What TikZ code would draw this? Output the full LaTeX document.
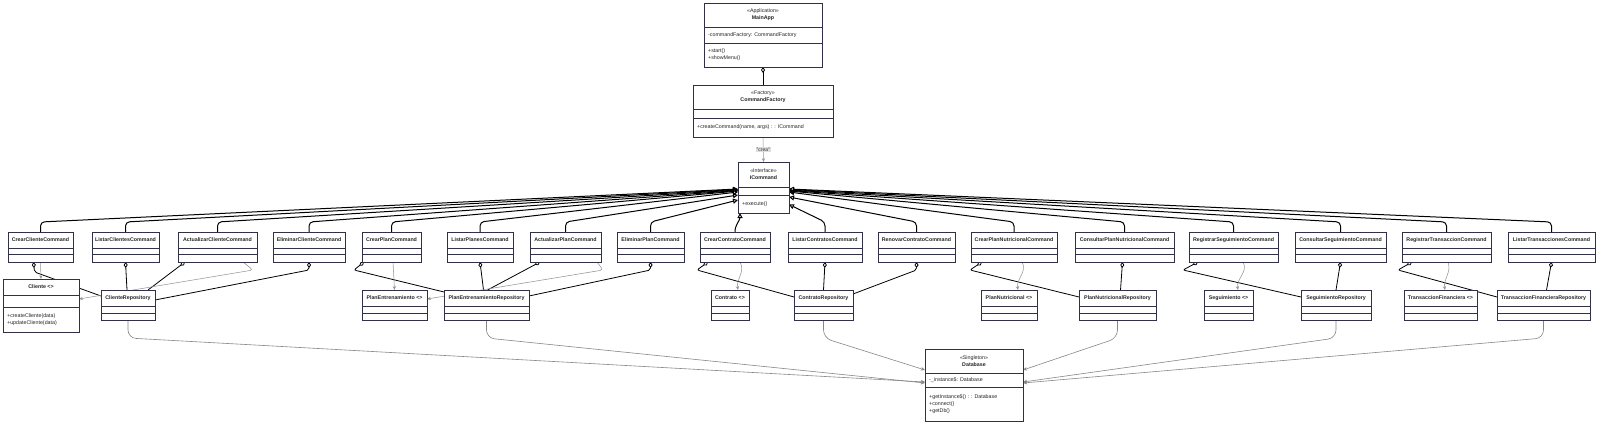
\documentclass[tikz,border=0pt]{standalone}
\usepackage{fontspec}
\setmainfont{Liberation Sans}
\usetikzlibrary{arrows.meta}

\definecolor{clsdraw}{RGB}{48,48,72}
\definecolor{deplink}{RGB}{150,150,150}
\definecolor{dblink}{RGB}{135,135,135}
\definecolor{labelbg}{RGB}{222,222,222}

\pgfdeclarelayer{back}
\pgfdeclarelayer{links}
\pgfsetlayers{back,links,main}

\tikzset{
  cls/.style={draw=clsdraw, fill=white, line width=0.7pt, inner sep=0pt, outer sep=0pt},
  clsline/.style={draw=clsdraw, line width=0.6pt},
  clstitle/.style={font=\fontsize{5.3}{7}\selectfont\bfseries, align=center, inner sep=0pt, text=black!85},
  clstext/.style={font=\fontsize{5.3}{7}\selectfont, align=left, inner sep=0pt, text=black!85},
  realize/.style={-{Triangle[length=5pt, width=5pt, fill=white]}, line width=1pt, rounded corners=4pt},
  agg/.style={{Diamond[open, length=6pt, width=4pt]}-, line width=0.8pt, rounded corners=2pt},
  dep/.style={draw=deplink, line width=0.55pt, -{Stealth[length=3.8pt, width=3.2pt]}},
  dbdep/.style={draw=dblink, line width=0.6pt, -{Stealth[length=4.2pt, width=3.6pt]}, rounded corners=8pt},
  crealabel/.style={fill=labelbg, font=\fontsize{5}{6}\selectfont, inner sep=1pt, text=black!80}
}

\newcommand{\umlclass}[9]{%
  \node[cls, anchor=north, minimum width=#4, minimum height=#5+#6+#7] (#1) at (#2,#3) {};
  \draw[clsline] ([yshift=-#5]#1.north west) -- ([yshift=-#5]#1.north east)
    ([yshift=-#5-#6]#1.north west) -- ([yshift=-#5-#6]#1.north east);
  \node[clstitle] at ([yshift=-#5/2]#1.north) {#8};
  \node[clstext, anchor=west] at ([xshift=4, yshift=-#5-#6-#7/2]#1.north west) {#9};
}

\begin{document}
\begin{tikzpicture}[x=1pt, y=-1pt]
\useasboundingbox (0,0) rectangle (1600,425);
\begin{pgfonlayer}{back}
  \fill[white] (0,0) rectangle (1600,425);
\end{pgfonlayer}

\umlclass{mainApp}{763}{3}{118}{24}{16}{24}{{\mdseries«Application»}\\MainApp}{+start()\\+showMenu()}
\node[clstext, anchor=west] at ([xshift=4, yshift=-32]mainApp.north west) {-commandFactory: CommandFactory};
\umlclass{cmdFactory}{763}{85}{140}{24}{9}{19}{{\mdseries«Factory»}\\CommandFactory}{+createCommand(name, args) : : ICommand}
\umlclass{iCommand}{763.5}{162}{51}{25}{8}{18}{{\mdseries«Interface»}\\ICommand}{+execute()}

\umlclass{crearCliente}{40.5}{232}{65}{16}{6}{8}{CrearClienteCommand}{}
\umlclass{listarClientes}{125.5}{232}{67}{16}{6}{8}{ListarClientesCommand}{}
\umlclass{actualizarCliente}{217.5}{232}{79}{16}{6}{8}{ActualizarClienteCommand}{}
\umlclass{eliminarCliente}{309}{232}{72}{16}{6}{8}{EliminarClienteCommand}{}
\umlclass{crearPlan}{391.5}{232}{59}{16}{6}{8}{CrearPlanCommand}{}
\umlclass{listarPlanes}{480}{232}{66}{16}{6}{8}{ListarPlanesCommand}{}
\umlclass{actualizarPlan}{565.5}{232}{71}{16}{6}{8}{ActualizarPlanCommand}{}
\umlclass{eliminarPlan}{650.5}{232}{67}{16}{6}{8}{EliminarPlanCommand}{}
\umlclass{crearContrato}{735}{232}{70}{16}{6}{8}{CrearContratoCommand}{}
\umlclass{listarContratos}{825}{232}{74}{16}{6}{8}{ListarContratosCommand}{}
\umlclass{renovarContrato}{916.5}{232}{77}{16}{6}{8}{RenovarContratoCommand}{}
\umlclass{crearPlanNut}{1014}{232}{86}{16}{6}{8}{CrearPlanNutricionalCommand}{}
\umlclass{consultarPlanNut}{1124.5}{232}{99}{16}{6}{8}{ConsultarPlanNutricionalCommand}{}
\umlclass{registrarSeg}{1233.5}{232}{89}{16}{6}{8}{RegistrarSeguimientoCommand}{}
\umlclass{consultarSeg}{1340.5}{232}{91}{16}{6}{8}{ConsultarSeguimientoCommand}{}
\umlclass{registrarTrans}{1446.5}{232}{89}{16}{6}{8}{RegistrarTransaccionCommand}{}
\umlclass{listarTrans}{1551.5}{232}{87}{16}{6}{8}{ListarTransaccionesCommand}{}

\umlclass{cliente}{41}{279}{76}{16}{12}{25}{Cliente <>}{+createCliente(data)\\+updateCliente(data)}
\umlclass{clienteRepo}{128}{290}{54}{16}{7}{7}{ClienteRepository}{}
\umlclass{planEnt}{394.5}{290}{65}{16}{7}{7}{PlanEntrenamiento <>}{}
\umlclass{planEntRepo}{486.5}{290}{85}{16}{7}{7}{PlanEntrenamientoRepository}{}
\umlclass{contrato}{730}{290}{38}{16}{7}{7}{Contrato <>}{}
\umlclass{contratoRepo}{823.5}{290}{59}{16}{7}{7}{ContratoRepository}{}
\umlclass{planNut}{1009}{290}{56}{16}{7}{7}{PlanNutricional <>}{}
\umlclass{planNutRepo}{1117.5}{290}{77}{16}{7}{7}{PlanNutricionalRepository}{}
\umlclass{seguimiento}{1228.5}{290}{49}{16}{7}{7}{Seguimiento <>}{}
\umlclass{seguimientoRepo}{1336}{290}{70}{16}{7}{7}{SeguimientoRepository}{}
\umlclass{transaccion}{1440.5}{290}{73}{16}{7}{7}{TransaccionFinanciera <>}{}
\umlclass{transaccionRepo}{1543.5}{290}{93}{16}{7}{7}{TransaccionFinancieraRepository}{}

\umlclass{database}{974}{349}{98}{24}{14}{34}{{\mdseries«Singleton»}\\Database}{+getInstance\$() : : Database\\+connect()\\+getDb()}
\node[clstext, anchor=west] at ([xshift=4, yshift=-31]database.north west) {-\_instance\$: Database};

\begin{pgfonlayer}{links}
  \draw[agg] (mainApp.south) -- (cmdFactory.north);
  \draw[dep] (cmdFactory.south) -- node[crealabel] {"crea"} (iCommand.north);

  \draw[realize] (crearCliente.north) -- ++(0,-10) -- ([yshift=-1.5]iCommand.west);
  \draw[realize] (listarClientes.north) -- ++(0,-10) -- ([yshift=-2]iCommand.west);
  \draw[realize] (actualizarCliente.north) -- ++(0,-10) -- ([yshift=-2.5]iCommand.west);
  \draw[realize] (eliminarCliente.north) -- ++(0,-10) -- ([yshift=-3]iCommand.west);
  \draw[realize] (crearPlan.north) -- ++(0,-10) -- ([yshift=-3.5]iCommand.west);
  \draw[realize] (listarPlanes.north) -- ++(0,-10) -- ([yshift=-4.5]iCommand.west);
  \draw[realize] (actualizarPlan.north) -- ++(0,-10) -- ([yshift=-7.5]iCommand.west);
  \draw[realize] (eliminarPlan.north) -- ++(0,-10) -- ([yshift=-12.5]iCommand.west);
  \draw[realize] (crearContrato.north) to[out=90, in=-90] ([xshift=2]iCommand.south west);
  \draw[realize] (listarContratos.north) -- ++(0,-10) -- ([yshift=-17]iCommand.east);
  \draw[realize] (renovarContrato.north) -- ++(0,-10) -- ([yshift=-9.5]iCommand.east);
  \draw[realize] (crearPlanNut.north) -- ++(0,-10) -- ([yshift=-4.5]iCommand.east);
  \draw[realize] (consultarPlanNut.north) -- ++(0,-10) -- ([yshift=-3.5]iCommand.east);
  \draw[realize] (registrarSeg.north) -- ++(0,-10) -- ([yshift=-3]iCommand.east);
  \draw[realize] (consultarSeg.north) -- ++(0,-10) -- ([yshift=-2.5]iCommand.east);
  \draw[realize] (registrarTrans.north) -- ++(0,-10) -- ([yshift=-2]iCommand.east);
  \draw[realize] (listarTrans.north) -- ++(0,-10) -- ([yshift=-1.5]iCommand.east);

  \draw[agg] ([xshift=-7]crearCliente.south) -- ++(1,10) -- ([yshift=-6]clienteRepo.north west);
  \draw[agg] (listarClientes.south) -- ([xshift=-1]clienteRepo.north);
  \draw[agg] ([xshift=7]actualizarCliente.south west) -- ([xshift=20]clienteRepo.north);
  \draw[agg] (eliminarCliente.south) -- ++(0,8) -- ([yshift=-10]clienteRepo.north east);
  \draw[agg] ([xshift=2]crearPlan.south west) -- ++(-10,8) -- ([yshift=-2]planEntRepo.north west);
  \draw[agg] (listarPlanes.south) -- ([xshift=-3]planEntRepo.north);
  \draw[agg] ([xshift=10]actualizarPlan.south west) -- ([xshift=1]planEntRepo.north);
  \draw[agg] (eliminarPlan.south) -- ++(0,8) -- ([yshift=-6]planEntRepo.north east);
  \draw[agg] ([xshift=8]crearContrato.south west) -- ++(-11,8) -- ([yshift=-7]contratoRepo.north west);
  \draw[agg] (listarContratos.south) -- (contratoRepo.north);
  \draw[agg] (renovarContrato.south) -- ++(0,8) -- ([yshift=-4]contratoRepo.north east);
  \draw[agg] ([xshift=11]crearPlanNut.south west) -- ++(-12,8) -- ([yshift=-7]planNutRepo.north west);
  \draw[agg] ([xshift=-2]consultarPlanNut.south) -- ([xshift=3]planNutRepo.north);
  \draw[agg] ([xshift=9]registrarSeg.south west) -- ++(-15,8) -- ([yshift=-7]seguimientoRepo.north west);
  \draw[agg] (consultarSeg.south) -- (seguimientoRepo.north);
  \draw[agg] ([xshift=10]registrarTrans.south west) -- ++(-14,8) -- ([yshift=-7]transaccionRepo.north west);
  \draw[agg] (listarTrans.south) -- ([xshift=3]transaccionRepo.north);

  \draw[dep] (crearCliente.south) -- (cliente.north);
  \draw[dep, rounded corners=3pt] ([xshift=-14]actualizarCliente.south east) -- ++(10,8) -- ([yshift=6.5]cliente.east);
  \draw[dep] ([xshift=1.5]crearPlan.south) -- (planEnt.north);
  \draw[dep, rounded corners=3pt] ([xshift=-4]actualizarPlan.south east) -- ++(6,8) -- ([yshift=6]planEnt.east);
  \draw[dep] ([xshift=5]crearContrato.south) to[out=-60, in=100] ([xshift=8]contrato.north);
  \draw[dep] ([xshift=8]crearPlanNut.south) to[out=-60, in=100] ([xshift=9]planNut.north);
  \draw[dep] ([xshift=9.5]registrarSeg.south) to[out=-60, in=100] ([xshift=9.5]seguimiento.north);
  \draw[dep] ([xshift=1.5]registrarTrans.south) to[out=-70, in=100] ([xshift=4.5]transaccion.north);

  \draw[dbdep] (clienteRepo.south) -- ++(0,18) -- ([yshift=3]database.west);
  \draw[dbdep] (planEntRepo.south) -- ++(0,18) -- ([yshift=2]database.west);
  \draw[dbdep] (contratoRepo.south) -- ++(0,18) -- ([yshift=-21]database.north west);
  \draw[dbdep] (planNutRepo.south) -- ++(0,18) -- ([yshift=-21]database.north east);
  \draw[dbdep] (seguimientoRepo.south) -- ++(0,18) -- ([yshift=3]database.east);
  \draw[dbdep] (transaccionRepo.south) -- ++(0,18) -- ([yshift=2]database.east);
\end{pgfonlayer}
\end{tikzpicture}
\end{document}
